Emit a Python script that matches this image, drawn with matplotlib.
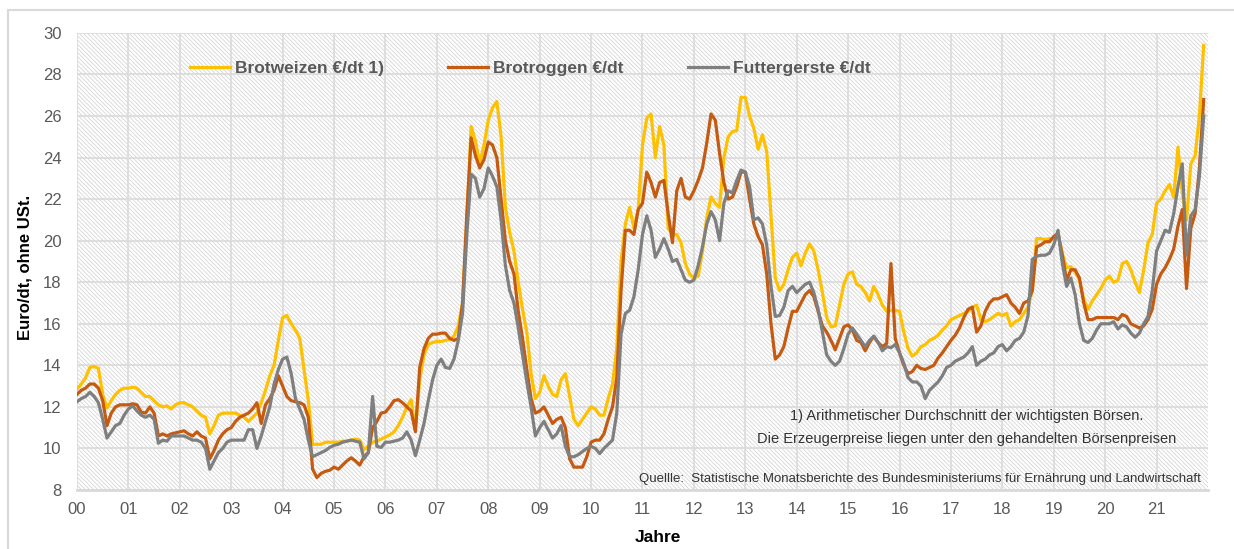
import numpy as np
import matplotlib
matplotlib.use('Agg')
import matplotlib.pyplot as plt
from matplotlib.patches import Rectangle
from matplotlib.lines import Line2D

plt.rcParams['font.family'] = ['Liberation Sans', 'DejaVu Sans']
plt.rcParams['hatch.linewidth'] = 0.6

# Monthly prices in Euro/dt, Jan 2000 .. Dec 2021 (one row per year)
weizen = [
    12.85, 13.1, 13.4, 13.9, 13.95, 13.85, 12.6, 11.95, 12.3, 12.6, 12.8, 12.9,   # 2000
    12.9, 12.95, 12.9, 12.7, 12.5, 12.5, 12.3, 12.1, 12.0, 12.05, 11.9, 12.1,     # 2001
    12.2, 12.2, 12.1, 12.0, 11.8, 11.6, 11.5, 10.7, 11.1, 11.6, 11.7, 11.7,       # 2002
    11.7, 11.7, 11.6, 11.5, 11.3, 11.5, 11.7, 12.2, 12.8, 13.5, 14.0, 15.2,       # 2003
    16.3, 16.4, 16.0, 15.7, 15.3, 13.8, 12.3, 10.2, 10.2, 10.2, 10.3, 10.3,       # 2004
    10.3, 10.3, 10.35, 10.35, 10.4, 10.45, 10.4, 9.95, 10.1, 10.3, 10.35, 10.45,  # 2005
    10.55, 10.65, 10.8, 11.1, 11.5, 12.0, 12.35, 10.9, 13.3, 14.5, 15.0, 15.1,    # 2006
    15.15, 15.15, 15.2, 15.25, 15.4, 15.9, 17.0, 21.0, 25.5, 24.8, 23.7, 24.6,    # 2007
    25.8, 26.4, 26.7, 25.0, 21.6, 20.4, 19.5, 18.0, 16.7, 15.6, 13.6, 12.4,       # 2008
    12.7, 13.5, 13.0, 12.6, 12.5, 13.3, 13.6, 12.5, 11.4, 11.1, 11.4, 11.7,       # 2009
    12.0, 11.9, 11.6, 11.6, 12.4, 13.1, 14.8, 19.0, 20.8, 21.6, 20.6, 21.5,       # 2010
    24.6, 25.9, 26.1, 24.0, 25.5, 24.6, 20.6, 20.3, 20.3, 19.9, 18.9, 18.4,       # 2011
    18.2, 18.3, 19.5, 21.1, 22.1, 21.8, 21.6, 24.0, 25.0, 25.25, 25.3, 26.9,      # 2012
    26.9, 26.0, 25.4, 24.4, 25.1, 24.3, 21.2, 18.2, 17.6, 17.9, 18.6, 19.2,       # 2013
    19.4, 18.8, 19.4, 19.85, 19.5, 18.6, 17.5, 16.3, 15.85, 15.9, 16.9, 17.9,     # 2014
    18.4, 18.5, 17.9, 17.8, 17.5, 17.1, 17.8, 17.4, 16.9, 16.6, 16.65, 16.65,     # 2015
    16.6, 15.6, 14.8, 14.45, 14.6, 14.9, 15.0, 15.2, 15.3, 15.45, 15.7, 15.9,     # 2016
    16.2, 16.3, 16.4, 16.5, 16.6, 16.8, 16.9, 16.2, 16.1, 16.2, 16.35, 16.5,      # 2017
    16.4, 16.5, 15.9, 16.1, 16.2, 16.5, 16.8, 17.6, 20.1, 20.1, 20.05, 20.1,      # 2018
    20.1, 20.3, 19.4, 18.7, 18.75, 18.5, 18.1, 17.2, 16.7, 17.1, 17.4, 17.7,      # 2019
    18.1, 18.3, 18.0, 18.1, 18.9, 19.0, 18.6, 18.0, 17.5, 18.6, 19.9, 20.3,       # 2020
    21.8, 22.0, 22.4, 22.7, 22.1, 24.5, 22.3, 21.0, 23.7, 24.1, 26.0, 29.4,       # 2021
]

roggen = [
    12.6, 12.8, 12.9, 13.1, 13.1, 12.9, 12.3, 11.1, 11.7, 12.0, 12.1, 12.1,       # 2000
    12.1, 12.15, 12.1, 11.75, 11.7, 12.0, 11.7, 10.6, 10.7, 10.6, 10.7, 10.75,    # 2001
    10.8, 10.85, 10.7, 10.6, 10.8, 10.6, 10.5, 9.5, 9.9, 10.4, 10.7, 10.9,        # 2002
    11.0, 11.3, 11.5, 11.6, 11.7, 11.9, 12.2, 11.2, 12.1, 12.4, 12.8, 13.5,       # 2003
    13.0, 12.5, 12.3, 12.25, 12.2, 12.1, 11.5, 9.0, 8.6, 8.8, 8.9, 8.95,          # 2004
    9.1, 9.0, 9.2, 9.4, 9.55, 9.4, 9.2, 9.6, 9.8, 11.0, 11.3, 11.7,               # 2005
    11.75, 12.0, 12.3, 12.35, 12.2, 12.0, 11.8, 10.8, 13.9, 14.8, 15.3, 15.5,     # 2006
    15.5, 15.55, 15.55, 15.3, 15.2, 15.3, 17.0, 21.3, 24.95, 24.1, 23.5, 23.9,    # 2007
    24.75, 24.6, 24.0, 22.0, 20.0, 19.0, 18.4, 16.6, 15.3, 13.8, 12.4, 11.7,      # 2008
    11.8, 12.0, 11.6, 11.2, 11.4, 11.5, 11.0, 9.5, 9.1, 9.1, 9.1, 9.6,            # 2009
    10.3, 10.4, 10.4, 10.7, 11.4, 12.0, 13.4, 17.6, 20.5, 20.5, 20.3, 21.5,       # 2010
    21.8, 23.3, 22.8, 22.1, 22.8, 22.9, 21.3, 19.9, 22.4, 23.0, 22.1, 22.0,       # 2011
    22.4, 22.9, 23.5, 24.7, 26.1, 25.8, 24.2, 22.8, 22.0, 22.1, 22.6, 23.3,       # 2012
    23.3, 22.0, 20.8, 20.2, 19.8, 18.4, 16.0, 14.3, 14.5, 14.9, 15.8, 16.6,       # 2013
    16.6, 17.0, 17.4, 17.6, 17.3, 16.6, 15.9, 15.6, 15.2, 14.75, 15.3, 15.85,     # 2014
    15.95, 15.7, 15.2, 15.1, 14.7, 15.1, 15.4, 15.1, 14.9, 15.05, 18.9, 15.3,     # 2015
    14.6, 14.0, 13.6, 13.7, 14.0, 13.85, 13.8, 13.9, 14.0, 14.35, 14.6, 14.9,     # 2016
    15.2, 15.45, 15.8, 16.3, 16.7, 16.8, 15.6, 15.9, 16.6, 17.0, 17.2, 17.2,      # 2017
    17.3, 17.4, 17.0, 16.8, 16.5, 17.0, 17.1, 17.6, 19.7, 19.8, 19.95, 19.95,     # 2018
    20.2, 20.35, 19.3, 18.1, 18.6, 18.6, 18.2, 17.0, 16.2, 16.2, 16.3, 16.3,      # 2019
    16.3, 16.3, 16.3, 16.2, 16.45, 16.35, 16.0, 15.9, 15.8, 15.9, 16.2, 16.7,     # 2020
    17.9, 18.4, 18.7, 19.1, 19.6, 20.7, 21.5, 17.7, 20.6, 21.3, 23.5, 26.8,       # 2021
]

gerste = [
    12.25, 12.4, 12.5, 12.7, 12.5, 12.2, 11.4, 10.5, 10.8, 11.1, 11.2, 11.6,      # 2000
    11.9, 12.05, 11.8, 11.6, 11.5, 11.6, 11.4, 10.25, 10.4, 10.35, 10.6, 10.6,    # 2001
    10.6, 10.6, 10.5, 10.4, 10.4, 10.3, 10.0, 9.0, 9.4, 9.8, 10.0, 10.3,          # 2002
    10.4, 10.4, 10.4, 10.4, 10.9, 10.9, 10.0, 10.6, 11.3, 12.0, 13.1, 13.8,       # 2003
    14.3, 14.4, 13.6, 12.4, 11.9, 11.4, 10.4, 9.6, 9.7, 9.8, 9.9, 10.05,          # 2004
    10.15, 10.2, 10.3, 10.35, 10.4, 10.35, 10.3, 9.5, 9.8, 12.5, 10.1, 10.05,     # 2005
    10.3, 10.3, 10.35, 10.4, 10.5, 10.8, 10.4, 9.65, 10.4, 11.2, 12.3, 13.3,      # 2006
    14.0, 14.3, 13.9, 13.85, 14.3, 15.2, 16.5, 20.3, 23.2, 23.0, 22.1, 22.5,      # 2007
    23.5, 23.1, 22.6, 21.0, 18.8, 17.6, 17.0, 15.8, 14.5, 13.2, 12.0, 10.6,       # 2008
    11.0, 11.3, 10.9, 10.5, 10.7, 11.1, 10.1, 9.6, 9.6, 9.7, 9.85, 10.0,          # 2009
    10.1, 10.0, 9.75, 10.0, 10.2, 10.4, 11.7, 15.5, 16.5, 16.65, 17.3, 18.6,      # 2010
    20.3, 21.2, 20.5, 19.2, 19.6, 20.1, 19.6, 19.0, 19.1, 18.6, 18.1, 18.0,       # 2011
    18.1, 18.8, 19.7, 20.8, 21.4, 21.0, 20.0, 21.8, 22.4, 22.3, 22.9, 23.4,       # 2012
    23.3, 22.6, 21.0, 21.1, 20.8, 19.8, 17.8, 16.35, 16.4, 16.8, 17.6, 17.8,      # 2013
    17.5, 17.7, 17.9, 18.0, 17.5, 16.7, 15.6, 14.5, 14.2, 14.0, 14.2, 14.8,       # 2014
    15.5, 15.8, 15.5, 15.2, 14.9, 15.2, 15.4, 15.1, 14.7, 14.9, 14.85, 15.0,      # 2015
    14.6, 14.1, 13.4, 13.2, 13.2, 13.0, 12.4, 12.8, 13.0, 13.2, 13.5, 13.9,       # 2016
    14.0, 14.2, 14.3, 14.4, 14.6, 14.9, 14.0, 14.2, 14.3, 14.5, 14.6, 14.9,       # 2017
    15.0, 14.7, 14.9, 15.2, 15.3, 15.6, 16.4, 19.1, 19.25, 19.3, 19.3, 19.4,      # 2018
    19.8, 20.5, 18.9, 17.8, 18.2, 17.4, 16.0, 15.2, 15.1, 15.3, 15.7, 16.0,       # 2019
    16.0, 16.0, 16.1, 15.75, 15.95, 15.85, 15.55, 15.35, 15.55, 16.0, 16.35, 17.6,  # 2020
    19.5, 20.0, 20.5, 20.4, 21.3, 22.6, 23.7, 19.3, 21.2, 21.5, 23.1, 26.0,       # 2021
]

labels = ['Brotweizen €/dt 1)', 'Brotroggen €/dt', 'Futtergerste €/dt']
colors = ['#FFC000', '#C55A11', '#7F7F7F']
jahre = list(range(2000, 2022))

x = 2000 + np.arange(len(weizen)) / 12.0

fig = plt.figure(figsize=(12.34, 5.49), dpi=100)
ax = fig.add_axes([0.0624, 0.1075, 0.9165, 0.8325])

# fine hatched plot area background
ax.add_patch(Rectangle((0, 0), 1, 1, transform=ax.transAxes, facecolor='white',
                       edgecolor='#d6d6d6', hatch='\\' * 8, lw=0, zorder=0))

for vals, lab, col in zip([weizen, roggen, gerste], labels, colors):
    ax.plot(x, vals, color=col, lw=2.3, label=lab, zorder=3, solid_joinstyle='round')

ax.set_xlim(2000, 2022)
ax.set_ylim(8, 30)
ax.set_xticks(jahre)
ax.set_xticklabels(['%02d' % (j % 100) for j in jahre])
ax.set_yticks(range(8, 31, 2))
ax.tick_params(axis='both', length=0, labelsize=12, labelcolor='#595959')
ax.tick_params(axis='x', pad=9)
ax.tick_params(axis='y', pad=11)

ax.set_axisbelow(True)
ax.grid(True, color='#dcdcdc', lw=1.3)
for s in ['left', 'right', 'top']:
    ax.spines[s].set_visible(False)
ax.spines['bottom'].set_color('#d9d9d9')
ax.spines['bottom'].set_linewidth(2)

ax.set_ylabel('Euro/dt, ohne USt.', fontsize=12, fontweight='bold', va='center')
ax.yaxis.set_label_coords(-0.046, 0.486)
ax.set_xlabel('Jahre', fontsize=12.5, fontweight='bold', va='center')
ax.xaxis.set_label_coords(0.514, -0.105)

ax.legend(loc='center left', bbox_to_anchor=(0.0999, 0.922), ncol=3, frameon=False,
          borderpad=0, borderaxespad=0, handlelength=2.3, handletextpad=0.3,
          columnspacing=3.7, prop={'size': 12.5, 'weight': 'bold'}, labelcolor='#595959')

ax.text(0.787, 0.162, '1) Arithmetischer Durchschnitt der wichtigsten Börsen.',
        transform=ax.transAxes, ha='center', va='center', fontsize=10.5, color='#333333')
ax.text(0.787, 0.112, 'Die Erzeugerpreise liegen unter den gehandelten Börsenpreisen',
        transform=ax.transAxes, ha='center', va='center', fontsize=10.5, color='#333333')
ax.text(0.9938, 0.024, 'Quellle:  Statistische Monatsberichte des Bundesministeriums für Ernährung und Landwirtschaft',
        transform=ax.transAxes, ha='right', va='center', fontsize=9.5, color='#333333')

# outer chart border
fig.add_artist(Line2D([0.0065, 0.0065], [0, 0.9818], color='#d9d9d9', lw=1.5))
fig.add_artist(Line2D([0.0065, 1.0], [0.9818, 0.9818], color='#d9d9d9', lw=1.5))

fig.savefig('out.png', dpi=100)
